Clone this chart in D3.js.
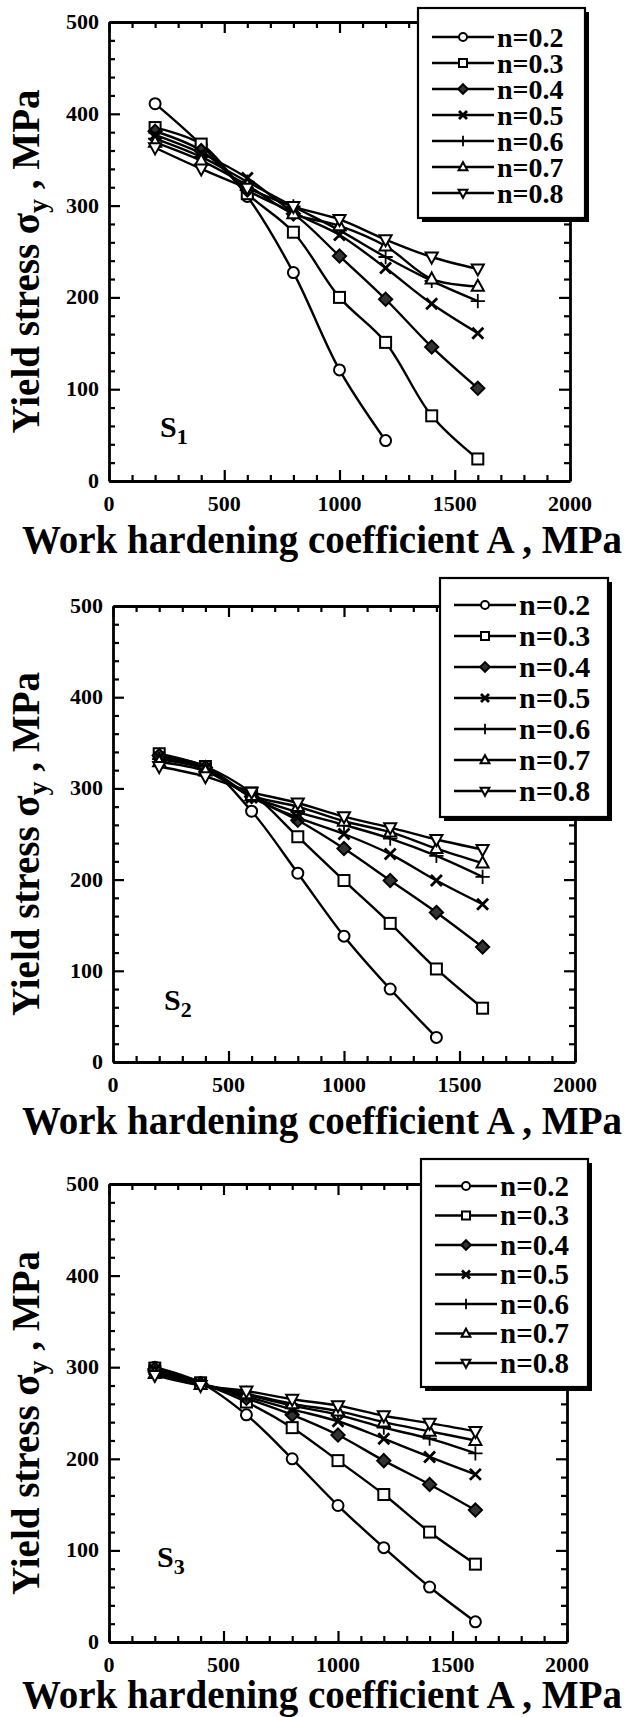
<!DOCTYPE html>
<html>
<head>
<meta charset="utf-8">
<script src="https://cdn.jsdelivr.net/npm/d3@7"></script>
<style>
  body { margin: 0; background: #fff; }
  svg { display: block; }
  text { font-family: "Liberation Serif", "Times New Roman", serif; font-weight: bold; fill: #000; }
</style>
</head>
<body>
<svg id="chart" width="624" height="1717"></svg>
<script>
// work hardening coefficient A (MPa)
const xValues = [200, 400, 600, 800, 1000, 1200, 1400, 1600];
const seriesNames = ['n=0.2', 'n=0.3', 'n=0.4', 'n=0.5', 'n=0.6', 'n=0.7', 'n=0.8'];
const markerTypes = ['circle', 'square', 'diamond', 'cross', 'plus', 'triangle', 'triangleDown'];
const xTicks = [0, 500, 1000, 1500, 2000];
const yTicks = [0, 100, 200, 300, 400, 500];

// yield stress (MPa), one row per n
const s1Values = [
  [411, 366, 310, 227, 121, 44, null, null],
  [385, 367, 313, 271, 200, 151, 71, 24],
  [381, 360, 317, 291, 245, 198, 146, 101],
  [377, 357, 330, 293, 268, 232, 193, 161],
  [373, 353, 326, 299, 273, 244, 218, 196],
  [369, 349, 322, 291, 278, 256, 220, 212],
  [363, 340, 319, 299, 285, 263, 244, 231]
];
const s2Values = [
  [335, 324, 275, 207, 138, 80, 27, null],
  [338, 324, 295, 247, 199, 152, 102, 59],
  [336, 323, 291, 265, 234, 199, 164, 126],
  [334, 322, 290, 268, 250, 228, 199, 173],
  [332, 321, 291, 274, 260, 245, 226, 203],
  [329, 319, 292, 280, 264, 252, 234, 218],
  [324, 313, 296, 284, 269, 257, 244, 233]
];
const s3Values = [
  [300, 283, 248, 200, 149, 103, 60, 22],
  [299, 283, 262, 234, 198, 161, 120, 85],
  [298, 282, 266, 248, 226, 198, 172, 144],
  [297, 282, 268, 254, 241, 222, 202, 183],
  [295, 282, 270, 258, 248, 234, 222, 206],
  [293, 281, 271, 260, 252, 240, 230, 220],
  [291, 280, 274, 265, 258, 247, 239, 230]
];

const panels = [
  {sub: '1', values: s1Values, left: 109, right: 570, top: 22, bottom: 481, titleY: 553,
   legend: {x: 418, y: 8, w: 167, h: 210, first: 37, step: 26, font: 28}, label: [160, 437]},
  {sub: '2', values: s2Values, left: 113, right: 575, top: 606, bottom: 1062, titleY: 1134,
   legend: {x: 440, y: 578, w: 168, h: 239, first: 605, step: 31, font: 30}, label: [164, 1010]},
  {sub: '3', values: s3Values, left: 109, right: 567, top: 1184, bottom: 1642, titleY: 1708,
   legend: {x: 421, y: 1159, w: 167, h: 228, first: 1186, step: 29.5, font: 29}, label: [157, 1567]}
];

const svg = d3.select('#chart');

function drawMarker(g, type, x, y, r) {
  const s = g.append('g').attr('transform', `translate(${x},${y})`)
    .attr('stroke', '#000').attr('stroke-width', 2).attr('fill', '#fff');
  if (type === 'circle') s.append('circle').attr('r', r);
  if (type === 'square') s.append('rect').attr('x', -r).attr('y', -r).attr('width', 2 * r).attr('height', 2 * r);
  if (type === 'diamond') s.append('path').attr('d', `M0,${-r * 1.2}L${r * 1.2},0L0,${r * 1.2}L${-r * 1.2},0Z`).attr('fill', '#333');
  if (type === 'cross') s.append('path').attr('d', `M${-r},${-r}L${r},${r}M${-r},${r}L${r},${-r}`).attr('stroke-width', 2.8);
  if (type === 'plus') s.append('path').attr('d', `M${-r * 1.3},0L${r * 1.3},0M0,${-r * 1.3}L0,${r * 1.3}`).attr('stroke-width', 1.8);
  if (type === 'triangle') s.append('path').attr('d', `M0,${-r * 1.2}L${r * 1.1},${r * 0.8}L${-r * 1.1},${r * 0.8}Z`);
  if (type === 'triangleDown') s.append('path').attr('d', `M0,${r * 1.2}L${r * 1.1},${-r * 0.8}L${-r * 1.1},${-r * 0.8}Z`);
}

panels.forEach(p => {
  const x = d3.scaleLinear().domain([0, 2000]).range([p.left, p.right]);
  const y = d3.scaleLinear().domain([0, 500]).range([p.bottom, p.top]);
  const g = svg.append('g');

  // inward ticks on all four sides
  const axes = [
    {axis: d3.axisBottom(x).tickValues(d3.range(0, 2001, 100)), t: `translate(0,${p.bottom})`, dir: -1, horiz: true},
    {axis: d3.axisTop(x).tickValues(d3.range(0, 2001, 100)), t: `translate(0,${p.top})`, dir: 1, horiz: true},
    {axis: d3.axisLeft(y).tickValues(d3.range(0, 501, 20)), t: `translate(${p.left},0)`, dir: 1, horiz: false},
    {axis: d3.axisRight(y).tickValues(d3.range(0, 501, 20)), t: `translate(${p.right},0)`, dir: -1, horiz: false}
  ];
  axes.forEach(a => {
    const ag = g.append('g').attr('transform', a.t)
      .call(a.axis.tickFormat('').tickSizeOuter(0).tickSize(0));
    ag.select('.domain').attr('stroke', '#000').attr('stroke-width', 2.8);
    ag.selectAll('.tick line')
      .attr('stroke', '#000').attr('stroke-width', 2.2)
      .each(function (d) {
        const major = a.horiz ? d % 500 === 0 : d % 100 === 0;
        const len = (major ? 11 : 6) * a.dir;
        d3.select(this).attr(a.horiz ? 'y2' : 'x2', len);
      });
  });

  // tick labels
  g.selectAll('.xlab').data(xTicks).enter().append('text')
    .attr('x', d => x(d)).attr('y', p.bottom + 30)
    .attr('text-anchor', 'middle').style('font-size', '22px').text(d => d);
  g.selectAll('.ylab').data(yTicks).enter().append('text')
    .attr('x', p.left - 10).attr('y', d => y(d) + 7)
    .attr('text-anchor', 'end').style('font-size', '22px').text(d => d);

  // axis titles
  g.append('text').attr('x', 622).attr('y', p.titleY)
    .attr('text-anchor', 'end').style('font-size', '39px')
    .text('Work hardening coefficient A , MPa');
  const yt = g.append('text')
    .attr('transform', `translate(39,${(p.top + p.bottom) / 2 + 10}) rotate(-90)`)
    .attr('text-anchor', 'middle').style('font-size', '39px');
  yt.append('tspan').text('Yield stress σ');
  yt.append('tspan').attr('dy', 8).style('font-size', '28px').text('y');
  yt.append('tspan').attr('dy', -8).text(' , MPa');

  // series
  const line = d3.line()
    .defined(d => d.v !== null)
    .x(d => x(d.a)).y(d => y(d.v))
    .curve(d3.curveCatmullRom.alpha(0.5));
  p.values.forEach((vals, i) => {
    const pts = xValues.map((a, k) => ({a: a, v: vals[k]}));
    g.append('path').datum(pts).attr('d', line)
      .attr('fill', 'none').attr('stroke', '#000').attr('stroke-width', 2.4);
  });
  p.values.forEach((vals, i) => {
    xValues.forEach((a, k) => {
      if (vals[k] !== null) drawMarker(g, markerTypes[i], x(a), y(vals[k]), 5.5);
    });
  });

  // panel label
  const lab = g.append('text').attr('x', p.label[0]).attr('y', p.label[1]).style('font-size', '30px');
  lab.append('tspan').text('S');
  lab.append('tspan').attr('dy', 7).style('font-size', '22px').text(p.sub);

  // legend
  const L = p.legend;
  g.append('rect').attr('x', L.x + 4).attr('y', L.y + 4).attr('width', L.w).attr('height', L.h).attr('fill', '#000');
  g.append('rect').attr('x', L.x).attr('y', L.y).attr('width', L.w).attr('height', L.h)
    .attr('fill', '#fff').attr('stroke', '#000').attr('stroke-width', 2.2);
  seriesNames.forEach((name, i) => {
    const ly = L.first + i * L.step;
    g.append('line').attr('x1', L.x + 14).attr('x2', L.x + 76).attr('y1', ly).attr('y2', ly)
      .attr('stroke', '#000').attr('stroke-width', 2.4);
    drawMarker(g, markerTypes[i], L.x + 45, ly, 4);
    g.append('text').attr('x', L.x + 79).attr('y', ly + L.font * 0.34)
      .style('font-size', L.font + 'px').text(name);
  });
});
</script>
</body>
</html>
